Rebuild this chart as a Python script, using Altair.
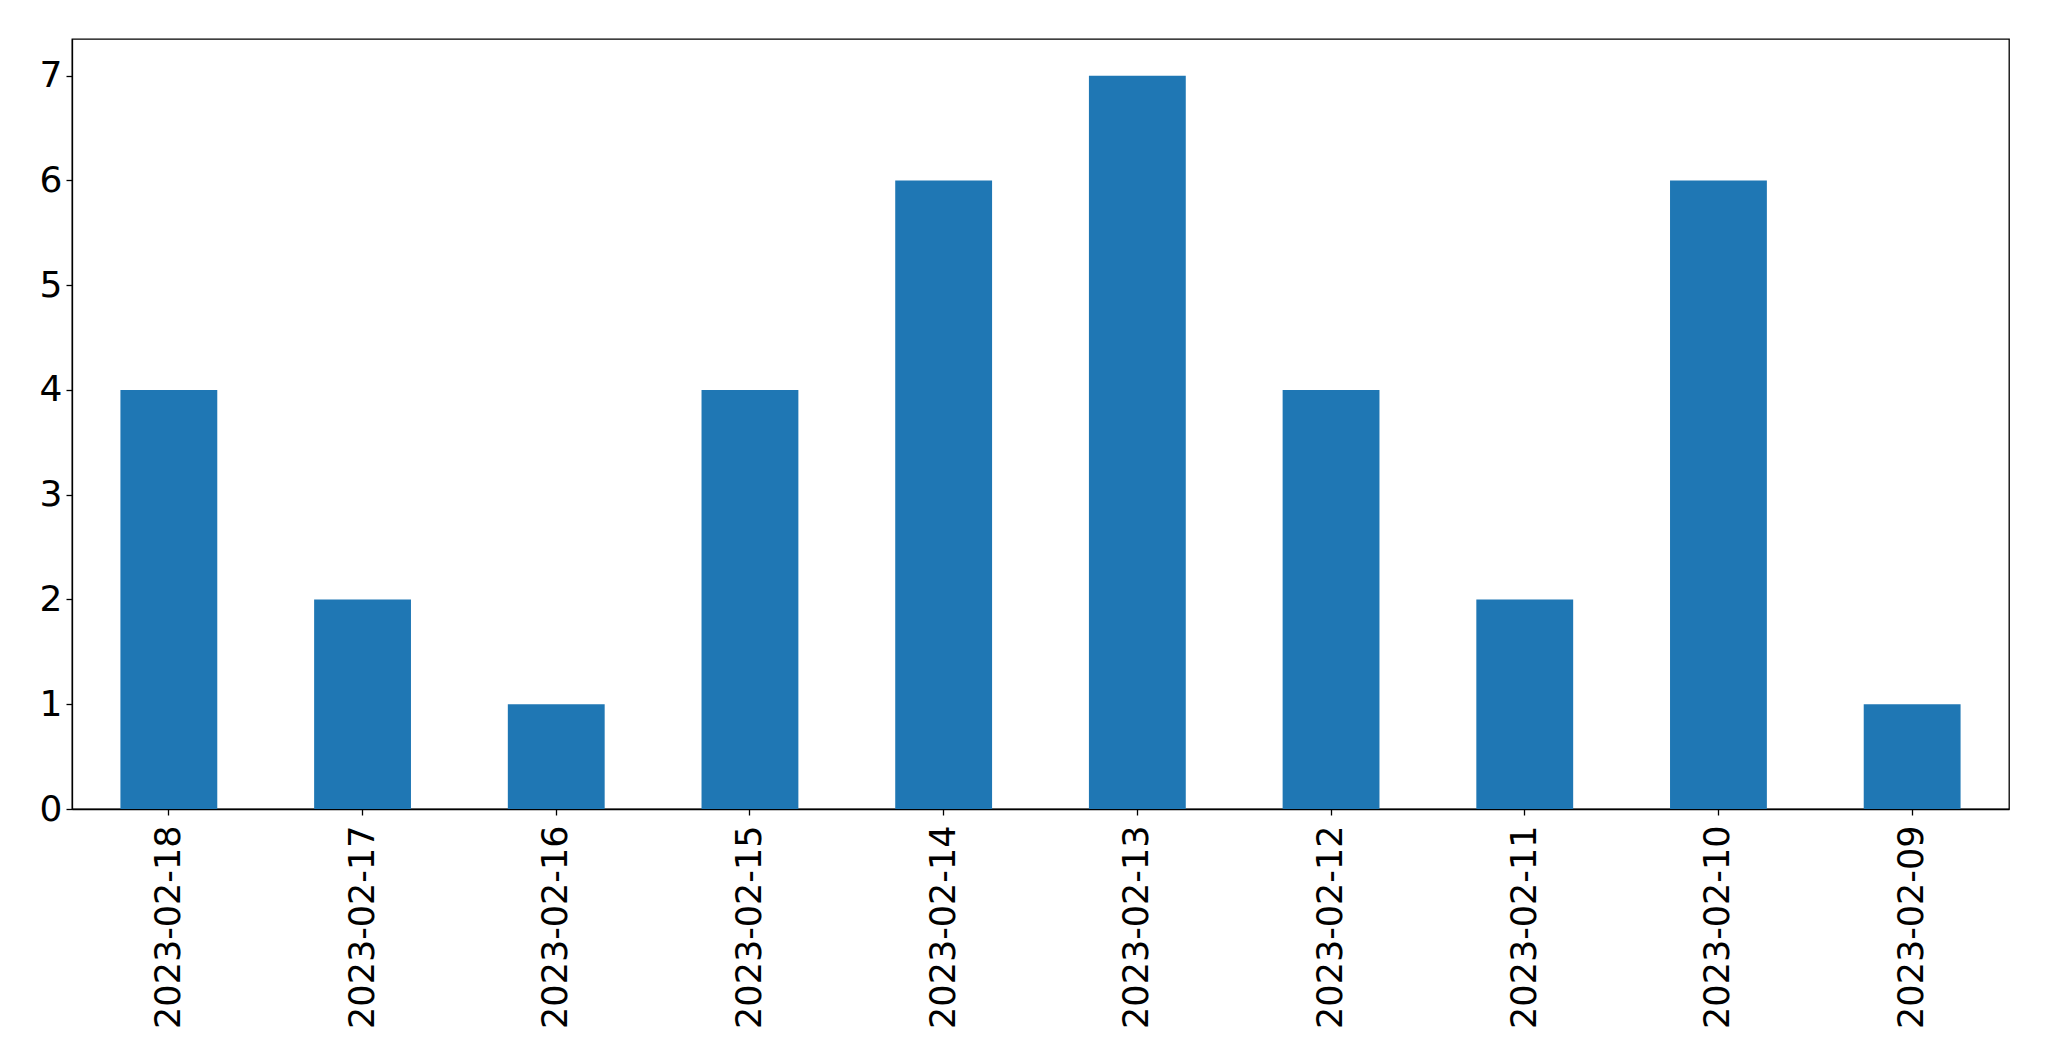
import altair as alt
import pandas as pd

dates = ["2023-02-18", "2023-02-17", "2023-02-16", "2023-02-15", "2023-02-14",
         "2023-02-13", "2023-02-12", "2023-02-11", "2023-02-10", "2023-02-09"]
counts = [4, 2, 1, 4, 6, 7, 4, 2, 6, 1]

df = pd.DataFrame({"date": dates, "count": counts})

chart = alt.Chart(df).mark_bar(color="#1f77b4").encode(
    x=alt.X("date:N", sort=None, title=None,
            scale=alt.Scale(paddingInner=0.5, paddingOuter=0.25),
            axis=alt.Axis(labelAngle=270, labelFontSize=35, labelFont="DejaVu Sans",
                          labelColor="black", tickColor="black", domainColor="black",
                          tickSize=6, labelPadding=10, labelLimit=0, grid=False)),
    y=alt.Y("count:Q", title=None,
            scale=alt.Scale(domain=[0, 7.35], nice=False, zero=True),
            axis=alt.Axis(values=[0, 1, 2, 3, 4, 5, 6, 7], labelFontSize=36,
                          labelFont="DejaVu Sans", labelColor="black",
                          tickColor="black", domainColor="black", tickSize=6,
                          labelPadding=4, grid=False)),
).properties(
    width=1937, height=770,
    autosize=alt.AutoSizeParams(type="none"),
    padding={"left": 64, "top": 31, "right": 30, "bottom": 240},
).configure_view(stroke="black", strokeWidth=1.3).configure_axis(domainWidth=1.3, tickWidth=1.3)

chart.save("out.html", embed_options={"renderer": "svg", "actions": False})
